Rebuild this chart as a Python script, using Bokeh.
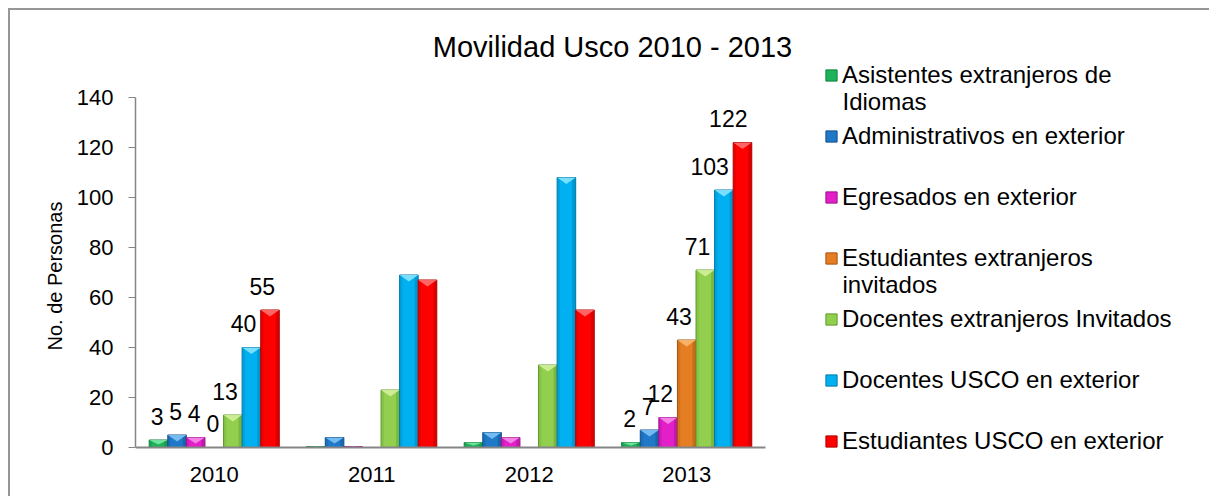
from bokeh.plotting import figure
from bokeh.models import Range1d, Legend, LegendItem, Label, ColumnDataSource, FixedTicker, Title
from bokeh.embed import file_html
from bokeh.resources import INLINE
from bokeh.core.properties import value

# ---------------- data ----------------
years = ["2010", "2011", "2012", "2013"]
series_names = [
    "Asistentes extranjeros de\nIdiomas",
    "Administrativos en exterior",
    "Egresados en exterior",
    "Estudiantes extranjeros\ninvitados",
    "Docentes extranjeros Invitados",
    "Docentes USCO en exterior",
    "Estudiantes USCO en exterior",
]
asistentes = [3, 0.4, 2, 2]
administrativos = [5, 4, 6, 7]
egresados = [4, 0.4, 4, 12]
est_extranjeros = [0, 0, 0, 43]
doc_extranjeros = [13, 23, 33, 71]
doc_usco = [40, 69, 108, 103]
est_usco = [55, 67, 55, 122]
labeled_years = ["2010", "2013"]
y_ticks = [0, 20, 40, 60, 80, 100, 120, 140]
y_max = 140

series_values = [asistentes, administrativos, egresados, est_extranjeros,
                 doc_extranjeros, doc_usco, est_usco]
colors = ["#1DB35A", "#1F78C8", "#E21FC9", "#E57E22", "#92CF4F", "#00B0F0", "#FF0000"]
dark_colors = ["#11803E", "#144F8A", "#9C1189", "#A3520E", "#5F9A2C", "#0078A8", "#B00000"]
light_colors = ["#7BE8A5", "#7DC2F5", "#F58CE8", "#F7B871", "#D3F09A", "#86E4FF", "#FF7070"]

FONT = "Liberation Sans"

W, H = 1201, 488
p = figure(x_range=Range1d(0, 6.832), y_range=Range1d(-20.4, 174.8),
           width=W, height=H, output_backend="svg", toolbar_location=None,
           min_border_left=125, min_border_right=0, min_border_top=0, min_border_bottom=0,
           background_fill_color="white", border_fill_color="white")
p.styles = {"margin-left": "8px", "margin-top": "8px",
            "border-top": "2px solid #969696", "border-left": "2px solid #969696"}
p.outline_line_color = None
p.xgrid.visible = False
p.ygrid.visible = False

bw = 0.118
n = len(series_values)
items = []
for k, vals in enumerate(series_values):
    off = (k - (n - 1) / 2) * bw
    xs, tops = [], []
    for i, v in enumerate(vals):
        if v > 0:
            xs.append(i + 0.5 + off)
            tops.append(v)
    src = ColumnDataSource(dict(x=xs, top=tops))
    r = p.vbar(x="x", top="top", bottom=0, width=bw, source=src,
               fill_color=colors[k], line_color=dark_colors[k], line_width=1)
    # side shading
    p.vbar(x=[x + bw / 2 - 0.012 for x in xs], top=tops, bottom=0, width=0.02,
           fill_color=dark_colors[k], fill_alpha=0.45, line_color=None)
    p.vbar(x=[x - bw / 2 + 0.01 for x in xs], top=tops, bottom=0, width=0.016,
           fill_color=dark_colors[k], fill_alpha=0.25, line_color=None)
    # top bevel
    tri_x = [[x - bw / 2, x + bw / 2, x] for x in xs]
    tri_y = [[t, t, t - min(2.6, t * 0.6)] for t in tops]
    p.patches(xs=tri_x, ys=tri_y, fill_color=light_colors[k], fill_alpha=0.9, line_color=None)
    items.append(LegendItem(label=series_names[k].split("\n")[0], renderers=[r]))

    # data labels
    lx, ly, lt = [], [], []
    for i, v in enumerate(vals):
        if years[i] in labeled_years:
            lx.append(i + 0.5 + off)
            ly.append(v)
            lt.append(str(int(v)))
    p.text(x=lx, y=ly, text=lt, text_align="right", text_baseline="middle",
           y_offset=-24, x_offset=5, text_font=value(FONT), text_font_size="23px",
           text_color="black")

# legend (one row per series, wrapped second lines added as labels)
leg_x, leg_y, item_h, item_gap, line_step = 689, 30, 54, 7, 26
glyph, standoff = 14, 4
legend = Legend(items=items, location=(leg_x, leg_y), glyph_width=glyph, glyph_height=glyph,
                label_text_font=FONT, label_text_font_size="24px", label_standoff=standoff,
                label_height=item_h, spacing=item_gap, padding=0, margin=0,
                border_line_color=None, background_fill_alpha=0, label_text_color="black")
p.add_layout(legend)
leg_h = n * item_h + (n - 1) * item_gap
for k, name in enumerate(series_names):
    parts = name.split("\n")
    if len(parts) > 1:
        cy = leg_y + leg_h - item_h / 2 - k * (item_h + item_gap) - line_step
        p.add_layout(Label(x=leg_x + glyph + standoff, y=cy, x_units="screen", y_units="screen",
                           text=parts[1], text_align="left", text_baseline="middle",
                           text_font=FONT, text_font_size="24px", text_color="black"))

title = Label(x=477, y=452, x_units="screen", y_units="screen", text="Movilidad Usco 2010 - 2013",
              text_align="center", text_baseline="middle", text_font=FONT, text_font_size="29px",
              text_color="black")
p.add_layout(title)

# y axis
p.yaxis.ticker = FixedTicker(ticks=y_ticks)
p.yaxis.bounds = (0, y_max)
p.yaxis.major_label_text_font = FONT
p.yaxis.major_label_text_font_size = "22px"
p.yaxis.major_label_text_color = "black"
p.yaxis.major_tick_out = 7
p.yaxis.major_tick_in = 0
p.yaxis.minor_tick_line_color = None
p.yaxis.major_label_standoff = 15
p.yaxis.axis_line_color = "#868686"
p.yaxis.major_tick_line_color = "#868686"
p.yaxis.axis_line_width = 1.5
ytitle_kw = dict(text="No. de Personas", align="left", offset=148, text_font=FONT,
                 text_font_size="20px", text_font_style="normal", text_color="black")
if "standoff" in Title.properties():
    ytitle_kw["standoff"] = 15
p.add_layout(Title(**ytitle_kw), "left")

# x axis at y = 0
p.xaxis.fixed_location = 0
p.xaxis.ticker = FixedTicker(ticks=[i + 0.5 for i in range(len(years))])
p.xaxis.major_label_overrides = {i + 0.5: y for i, y in enumerate(years)}
p.xaxis.bounds = (0, len(years))
p.xaxis.minor_tick_line_color = None
p.xaxis.major_label_text_font = FONT
p.xaxis.major_label_text_font_size = "22px"
p.xaxis.major_label_text_color = "black"
p.xaxis.major_tick_out = 0
p.xaxis.major_tick_in = 0
p.xaxis.major_label_standoff = 19
p.xaxis.axis_line_color = "#868686"
p.xaxis.axis_line_width = 2

open("out.html", "w").write(file_html(p, INLINE))
